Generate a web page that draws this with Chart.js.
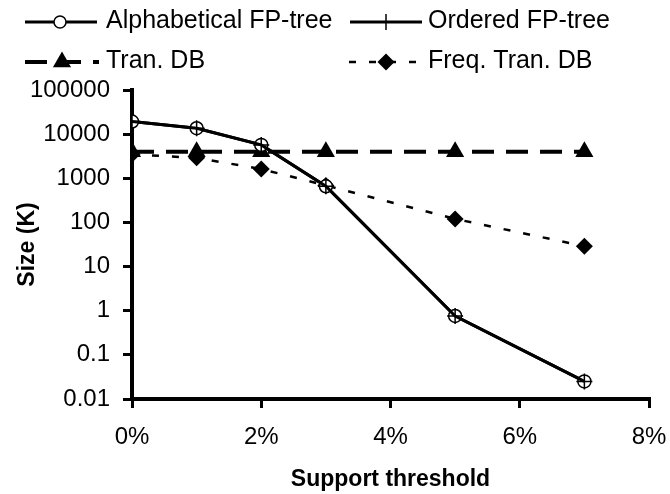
<!DOCTYPE html>
<html>
<head>
<meta charset="utf-8">
<script src="https://cdn.jsdelivr.net/npm/chart.js@4/dist/chart.umd.min.js"></script>
<style>
  html, body { margin: 0; padding: 0; background: #fff; }
  #wrap { width: 670px; height: 494px; }
</style>
</head>
<body>
<div id="wrap"><canvas id="grafico" width="670" height="494"></canvas></div>
<script>
// Datos (umbral de soporte en %, tamaño en K)
const umbrales = [0, 1, 2, 3, 5, 7];
const alfabetico = [19300, 13600, 5700, 660, 0.76, 0.025];
const ordenado = [19300, 13600, 5700, 660, 0.76, 0.025];
const tranDB = [4000, 4000, 4000, 4000, 4000, 4000];
const freqTranDB = [3500, 2900, 1620, 690, 120, 29];

const ticksX = [0, 2, 4, 6, 8];
const ticksY = [0.01, 0.1, 1, 10, 100, 1000, 10000, 100000];
const etiquetas = ['Alphabetical FP-tree', 'Ordered FP-tree', 'Tran. DB', 'Freq. Tran. DB'];

const FUENTE = "'Liberation Sans', Arial, sans-serif";
const pares = (ys) => umbrales.map((x, i) => ({ x: x, y: ys[i] }));

// Dibuja un marcador simple (para la leyenda)
function marcador(ctx, tipo, x, y) {
    ctx.save();
    ctx.fillStyle = '#000';
    ctx.strokeStyle = '#000';
    ctx.setLineDash([]);
    ctx.beginPath();
    if (tipo === 'circle') {
        ctx.lineWidth = 1.5;
        ctx.fillStyle = '#fff';
        ctx.arc(x, y, 6, 0, Math.PI * 2);
        ctx.fill();
        ctx.stroke();
    } else if (tipo === 'cross') {
        ctx.lineWidth = 1.5;
        ctx.moveTo(x, y - 8); ctx.lineTo(x, y + 8);
        ctx.stroke();
    } else if (tipo === 'triangle') {
        const r = 10.5;
        ctx.moveTo(x, y - r);
        ctx.lineTo(x + r * 0.866, y + r / 2);
        ctx.lineTo(x - r * 0.866, y + r / 2);
        ctx.closePath();
        ctx.fill();
    } else if (tipo === 'rectRot') {
        const r = 8.5;
        ctx.moveTo(x, y - r); ctx.lineTo(x + r, y); ctx.lineTo(x, y + r); ctx.lineTo(x - r, y);
        ctx.closePath();
        ctx.fill();
    }
    ctx.restore();
}

// Leyenda propia en la parte superior (dos filas, dos columnas)
const leyenda = {
    id: 'leyenda',
    afterDraw(chart) {
        const ctx = chart.ctx;
        const pos = [
            { x0: 25, x1: 97, xm: 60, y: 22, xt: 106, ty: 28 },
            { x0: 350, x1: 422, xm: 386, y: 22, xt: 428, ty: 28 },
            { x0: 25, x1: 99, xm: 62, y: 62, xt: 106, ty: 68 },
            { x0: 349, x1: 416, xm: 386, y: 62, xt: 428, ty: 68 }
        ];
        chart.data.datasets.forEach((ds, i) => {
            const p = pos[i];
            ctx.save();
            ctx.strokeStyle = '#000';
            ctx.lineWidth = ds.borderWidth;
            ctx.setLineDash(ds.borderDash || []);
            ctx.beginPath();
            ctx.moveTo(p.x0, p.y);
            ctx.lineTo(p.x1, p.y);
            ctx.stroke();
            ctx.restore();
            marcador(ctx, ds.pointStyle, p.xm, p.y);
            ctx.save();
            ctx.fillStyle = '#000';
            ctx.font = '25px ' + FUENTE;
            ctx.textBaseline = 'alphabetic';
            ctx.fillText(ds.label, p.xt, p.ty);
            ctx.restore();
        });
    }
};

const ctx = document.getElementById('grafico').getContext('2d');
new Chart(ctx, {
    type: 'line',
    data: {
        datasets: [
            {
                label: etiquetas[0], data: pares(alfabetico), order: 1,
                borderColor: '#000', borderWidth: 3, backgroundColor: '#fff',
                pointStyle: 'circle', pointRadius: 6.5, pointBorderWidth: 1.5,
                pointBackgroundColor: '#fff', pointBorderColor: '#000', tension: 0
            },
            {
                label: etiquetas[1], data: pares(ordenado), order: 0,
                borderColor: '#000', borderWidth: 3,
                pointStyle: 'cross', pointRadius: 8, pointBorderWidth: 1.5,
                pointBorderColor: '#000', tension: 0
            },
            {
                label: etiquetas[2], data: pares(tranDB), order: 3,
                borderColor: '#000', borderWidth: 4, borderDash: [22, 12],
                pointStyle: 'triangle', pointRadius: 10.5, pointBorderWidth: 0,
                pointBackgroundColor: '#000', pointBorderColor: '#000', tension: 0
            },
            {
                label: etiquetas[3], data: pares(freqTranDB), order: 2,
                borderColor: '#000', borderWidth: 2.5, borderDash: [7, 13],
                pointStyle: 'rectRot', pointRadius: 8.5, pointBorderWidth: 0,
                pointBackgroundColor: '#000', pointBorderColor: '#000', tension: 0
            }
        ]
    },
    options: {
        responsive: false,
        animation: false,
        devicePixelRatio: 1,
        layout: { padding: { top: 90, right: 21, left: 0, bottom: 0 } },
        plugins: { legend: { display: false }, tooltip: { enabled: false } },
        scales: {
            x: {
                type: 'linear', min: 0, max: 8,
                afterBuildTicks: s => { s.ticks = ticksX.map(v => ({ value: v })); },
                afterFit: s => { s.height = 95; s.paddingLeft = 0; s.paddingRight = 0; },
                ticks: { color: '#000', padding: 15, font: { size: 24, family: FUENTE }, callback: v => v + '%' },
                grid: { drawOnChartArea: false, drawTicks: true, tickLength: 9, lineWidth: 3, color: '#000' },
                border: { display: true, color: '#000', width: 4 },
                title: { display: true, text: 'Support threshold', color: '#000', padding: { top: 0, bottom: 1 },
                         font: { size: 23, weight: 'bold', family: FUENTE } }
            },
            y: {
                type: 'logarithmic', min: 0.01, max: 100000,
                afterBuildTicks: s => { s.ticks = ticksY.map(v => ({ value: v })); },
                afterFit: s => { s.width = 132; },
                ticks: { color: '#000', padding: 13, font: { size: 24, family: FUENTE }, callback: v => String(v) },
                grid: { drawOnChartArea: false, drawTicks: true, tickLength: 9, lineWidth: 3, color: '#000' },
                border: { display: true, color: '#000', width: 4 },
                title: { display: true, text: 'Size (K)', color: '#000', padding: { top: 14, bottom: 0 },
                         font: { size: 23, weight: 'bold', family: FUENTE } }
            }
        }
    },
    plugins: [leyenda]
});
</script>
</body>
</html>
